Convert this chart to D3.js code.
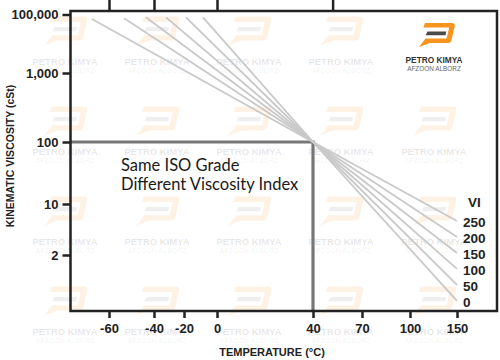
<!DOCTYPE html>
<html>
<head>
<meta charset="utf-8">
<script src="https://cdn.jsdelivr.net/npm/d3@7"></script>
<style>
  html, body { margin: 0; padding: 0; background: #fff; }
  svg { display: block; }
</style>
</head>
<body>
<svg id="chart" width="500" height="360"></svg>
<script>
// ---------------- DATA ----------------
const tempTicks = [-60, -40, -20, 0, 40, 70, 100, 150];
const topTickTemps = [-60, -40, 0, 52];
const viscTicks = [100000, 1000, 100, 10, 2];
const viscLabels = ["100,000", "1,000", "100", "10", "2"];
const viLevels = [250, 200, 150, 100, 50, 0];
const startTemps = [-67.6, -53.3, -43.6, -32, -18.8, -8.5];
const startViscs = [70000, 75000, 80000, 80000, 80000, 80000];
const refTemp = 40;
const refVisc = 100;
const endTemp = 150;
const endViscs = [5.85, 3.53, 2.13, 1.29, 0.78, 0.47];
const annotationLines = ["Same ISO Grade", "Different Viscosity Index"];

// ---------------- LAYOUT ----------------
const svg = d3.select("#chart");
const frame = { left: 70.5, top: 11, right: 497, bottom: 311 };

// stylised (non-uniform) axes of the original drawing
const x = d3.scaleLinear()
  .domain(tempTicks)
  .range([109, 154, 184, 217, 313, 362, 410, 457]);
const yLog = d3.scaleLinear()
  .domain([Math.log10(2), 1, 2, 3, 5])
  .range([255, 204, 142, 73, 14.5]);
const y = v => yLog(Math.log10(v));

// ---------------- WATERMARKS ----------------
const orangePath = "M6,0 L33,0 Q36.5,0 35.6,3.5 L32.4,17.5 Q31.8,20 29,20 L11,20 L0,24 L6.5,15.6 L27.6,15.6 L30.2,4.6 L4.4,4.6 Z";
const barPath = "M8.5,8.6 L27.3,8.6 L26.5,12.2 L6.6,12.2 Z";

function drawLogo(g, cx, cy, s, faint) {
  const lg = g.append("g").attr("transform", `translate(${cx - 18 * s},${cy - 12 * s}) scale(${s})`);
  lg.append("path").attr("d", orangePath)
    .attr("fill", "#f7941d").attr("fill-opacity", faint ? 0.12 : 1);
  lg.append("path").attr("d", barPath)
    .attr("fill", faint ? "#9a9a9a" : "#4a4a4a").attr("fill-opacity", faint ? 0.16 : 1);
}

const wm = svg.append("g").attr("class", "watermarks");
const wmCols = [65, 157, 249, 341, 434];
const wmRows = [62, 152, 242, 332];
wmRows.forEach((ty, ri) => {
  wmCols.forEach((cx, ci) => {
    if (ri === 0 && ci === 4) return;
    drawLogo(wm, cx + 1, ty - 31, 1.2, true);
    wm.append("text").attr("x", cx).attr("y", ty + 3)
      .attr("text-anchor", "middle")
      .attr("font-family", "Liberation Sans, Arial, sans-serif")
      .attr("font-weight", "bold").attr("font-size", 9.5)
      .attr("fill", "#000").attr("fill-opacity", 0.11)
      .text("PETRO KIMYA");
    wm.append("text").attr("x", cx).attr("y", ty + 11)
      .attr("text-anchor", "middle")
      .attr("font-family", "Liberation Sans, Arial, sans-serif")
      .attr("font-size", 7)
      .attr("fill", "#000").attr("fill-opacity", 0.07)
      .text("AFZOON ALBORZ");
  });
});

// main logo
drawLogo(svg, 437, 35, 1, false);
svg.append("text").attr("x", 434).attr("y", 63)
  .attr("text-anchor", "middle")
  .attr("font-family", "Liberation Sans, Arial, sans-serif")
  .attr("font-weight", "bold").attr("font-size", 8.3)
  .attr("fill", "#333").text("PETRO KIMYA");
svg.append("text").attr("x", 434).attr("y", 70.5)
  .attr("text-anchor", "middle")
  .attr("font-family", "Liberation Sans, Arial, sans-serif")
  .attr("font-size", 6.4)
  .attr("fill", "#666").text("AFZOON ALBORZ");

// ---------------- REFERENCE LINES ----------------
svg.append("path")
  .attr("d", d3.line()([[frame.left, y(refVisc)], [x(refTemp), y(refVisc)], [x(refTemp), frame.bottom]]))
  .attr("fill", "none").attr("stroke", "#777").attr("stroke-width", 3.2);

// ---------------- VI LINES ----------------
const line = d3.line().x(d => x(d[0])).y(d => y(d[1]));
viLevels.forEach((vi, i) => {
  const pts = [[startTemps[i], startViscs[i]], [refTemp, refVisc], [endTemp, endViscs[i]]];
  svg.append("path").attr("d", line(pts))
    .attr("fill", "none").attr("stroke", "#c9c9c9").attr("stroke-width", 1.8);
  svg.append("text")
    .attr("x", x(endTemp) + 6).attr("y", y(endViscs[i]) + 1)
    .attr("dy", "0.36em")
    .attr("font-family", "Liberation Sans, Arial, sans-serif")
    .attr("font-weight", "bold").attr("font-size", 13.5)
    .attr("fill", "#222").text(vi);
});
svg.append("text")
  .attr("x", x(endTemp) + 11).attr("y", y(endViscs[0]) - 19)
  .attr("dy", "0.36em")
  .attr("font-family", "Liberation Sans, Arial, sans-serif")
  .attr("font-weight", "bold").attr("font-size", 13.5)
  .attr("fill", "#222").text("VI");

// ---------------- ANNOTATION ----------------
svg.append("g").selectAll("text").data(annotationLines).join("text")
  .attr("x", 121).attr("y", (d, i) => 171 + i * 19)
  .attr("font-family", "Lato, 'Open Sans', sans-serif")
  .attr("font-size", 16.5)
  .attr("fill", "#1a1a1a").text(d => d);

// ---------------- AXES ----------------
const axisFont = "Liberation Sans, Arial, sans-serif";
const gy = svg.append("g").attr("transform", `translate(${frame.left},0)`)
  .call(d3.axisLeft(yLog)
    .tickValues(viscTicks.map(v => Math.log10(v)))
    .tickFormat((d, i) => viscLabels[i])
    .tickSize(8).tickPadding(4).tickSizeOuter(0));
const gx = svg.append("g").attr("transform", `translate(0,${frame.bottom})`)
  .call(d3.axisBottom(x).tickValues(tempTicks)
    .tickFormat(d3.format("d")).tickSize(7).tickPadding(6).tickSizeOuter(0));
const gt = svg.append("g").attr("transform", `translate(0,${frame.top})`)
  .call(d3.axisTop(x).tickValues(topTickTemps).tickFormat("").tickSize(11).tickSizeOuter(0));
[gx, gy, gt].forEach(g => {
  g.select(".domain").remove();
  g.selectAll(".tick line").attr("stroke", "#222").attr("stroke-width", 2.5);
  g.selectAll(".tick text").attr("font-family", axisFont).attr("font-weight", "bold")
    .attr("font-size", 13).attr("fill", "#222");
});
gx.selectAll(".tick text").text(d => d < 0 ? "-" + Math.abs(d) : d);

// frame
svg.append("rect")
  .attr("x", frame.left).attr("y", frame.top)
  .attr("width", frame.right - frame.left).attr("height", frame.bottom - frame.top)
  .attr("fill", "none").attr("stroke", "#222").attr("stroke-width", 2.5);

// axis titles
svg.append("text")
  .attr("transform", `translate(14,156) rotate(-90)`)
  .attr("text-anchor", "middle")
  .attr("font-family", axisFont).attr("font-weight", "bold").attr("font-size", 10.5)
  .attr("fill", "#222").text("KINEMATIC VISCOSITY (cSt)");
svg.append("text")
  .attr("x", 272).attr("y", 356)
  .attr("text-anchor", "middle")
  .attr("font-family", axisFont).attr("font-weight", "bold").attr("font-size", 11)
  .attr("fill", "#222").text("TEMPERATURE (°C)");
</script>
</body>
</html>
